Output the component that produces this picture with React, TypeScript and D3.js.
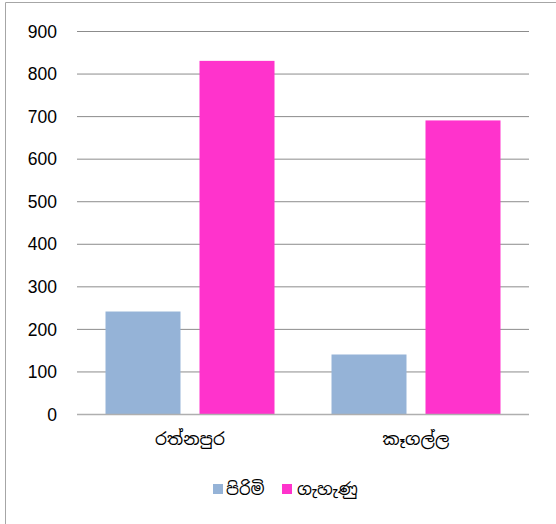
import React from "react";
import * as d3 from "d3";

const categories = ["රත්නපුර", "කෑගල්ල"];
const seriesNames = ["පිරිමි", "ගැහැණු"];
const male = [242, 141];
const female = [831, 691];
const yTicks = [0, 100, 200, 300, 400, 500, 600, 700, 800, 900];
const colors = ["#95B3D7", "#FF33CC"];

export default function App() {
  const W = 556, H = 524;
  const left = 77, right = 529, top = 31.5, bottom = 414.5;
  const x0 = d3.scaleBand().domain(categories).range([left, right]).paddingInner(0).paddingOuter(0);
  const y = d3.scaleLinear().domain([0, 900]).range([bottom, top]);
  const series = [male, female];
  const bw = 75;
  const gap = 19;
  const sinhalaFont = "'Noto Sans Sinhala', 'Iskoola Pota', 'Noto Serif Sinhala', serif";
  return (
    <svg width={W} height={H} style={{ position: "absolute", left: 0, top: 0, background: "#fff" }}>
      <line x1={5.5} y1={524} x2={5.5} y2={2.5} stroke="#A6A6A6" strokeWidth={1} />
      <line x1={5.5} y1={2.5} x2={556} y2={2.5} stroke="#A6A6A6" strokeWidth={1} />
      {yTicks.map((t) => (
        <g key={t}>
          {t !== 0 && (
            <line x1={left} x2={right} y1={y(t)} y2={y(t)} stroke="#8C8C8C" strokeWidth={1} />
          )}
          <text x={57} y={y(t)} dy="0.35em" textAnchor="end" fontFamily="Arial, 'Liberation Sans', sans-serif" fontSize={17.5} fill="#000">
            {t}
          </text>
        </g>
      ))}
      {categories.map((c, ci) => {
        const cx = (x0(c) as number) + x0.bandwidth() / 2;
        return (
          <g key={c}>
            {series.map((s, si) => {
              const bx = si === 0 ? cx - gap / 2 - bw : cx + gap / 2;
              return (
                <rect key={si} x={bx} y={y(s[ci])} width={bw} height={bottom - y(s[ci])} fill={colors[si]} />
              );
            })}
            <text x={cx} y={445} textAnchor="middle" fontFamily={sinhalaFont} fontSize={17} fill="#000">
              {c}
            </text>
          </g>
        );
      })}
      <line x1={left} x2={right} y1={bottom} y2={bottom} stroke="#AFAFAF" strokeWidth={1.5} />
      <g>
        <rect x={213} y={484} width={10} height={10} fill={colors[0]} />
        <text x={226} y={495} fontFamily={sinhalaFont} fontSize={16.5} fill="#000">{seriesNames[0]}</text>
        <rect x={282} y={484} width={10} height={10} fill={colors[1]} />
        <text x={297} y={495} fontFamily={sinhalaFont} fontSize={16.5} fill="#000">{seriesNames[1]}</text>
      </g>
    </svg>
  );
}
